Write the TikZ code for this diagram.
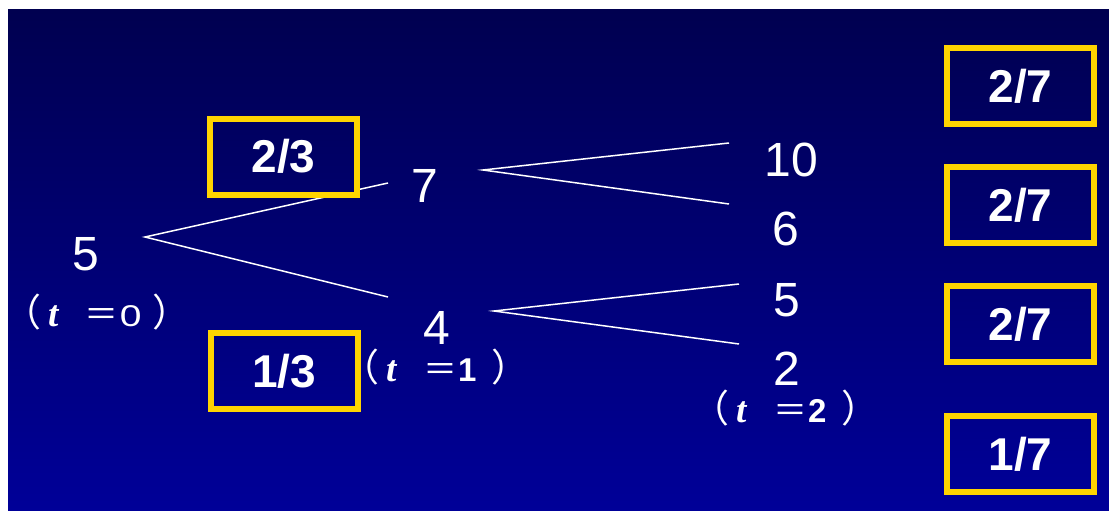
\documentclass[tikz,border=0pt]{standalone}
\usepackage{fontspec}
\usepackage{graphicx}
\setmainfont{Liberation Sans}
\newfontfamily\cjkf{Noto Sans CJK SC}
\newfontfamily\tserif{Liberation Serif}
\definecolor{bgtop}{RGB}{0,0,80}
\definecolor{bgbot}{RGB}{0,0,152}
\definecolor{gold}{RGB}{255,212,0}
\definecolor{bA}{RGB}{0,0,95}\definecolor{bB}{RGB}{0,0,107}
\definecolor{bC}{RGB}{0,0,126}\definecolor{bD}{RGB}{0,0,138}
\definecolor{bE}{RGB}{0,0,85}\definecolor{bF}{RGB}{0,0,97}
\definecolor{bG}{RGB}{0,0,102}\definecolor{bH}{RGB}{0,0,114}
\definecolor{bI}{RGB}{0,0,119}\definecolor{bJ}{RGB}{0,0,131}
\definecolor{bK}{RGB}{0,0,138}\definecolor{bL}{RGB}{0,0,150}
\newcommand\tpart[2]{\makebox[0pt][l]{\hspace{#1}#2}}
\newcommand\tlab[1]{\makebox[136pt][l]{%
  \tpart{-24pt}{\fontsize{38}{42}\selectfont\cjkf （}%
  \tpart{21pt}{\fontsize{37}{40}\selectfont\tserif\bfseries\itshape t}%
  \tpart{58pt}{\fontsize{34}{38}\selectfont\cjkf ＝}%
  \tpart{93pt}{#1}%
  \tpart{126pt}{\fontsize{38}{42}\selectfont\cjkf ）}}}
\begin{document}
\begin{tikzpicture}[x=1pt,y=-1pt,
  num/.style={text=white,font=\fontsize{48}{56}\selectfont,inner sep=0pt},
  tlabel/.style={text=white,inner sep=0pt},
  branch/.style={draw=white,line width=1.5pt},
  probbox/.style={draw=gold,line width=6pt,minimum width=147pt,minimum height=76pt,
    text=white,font=\fontsize{46}{52}\selectfont\bfseries,inner sep=0pt}]
\useasboundingbox (0,0) rectangle (1109,511);
\fill[white] (0,0) rectangle (1109,511);
\shade[top color=bgtop,bottom color=bgbot] (8,10) rectangle (1109,511);
% tree values
\node[num] (v0) at (86,254) {5};
\node[num] (v1u) at (425,186) {7};
\node[num] (v1d) at (437,328) {4};
\node[num] (v2a) at (791,160) {10};
\node[num] (v2b) at (786,229) {6};
\node[num] (v2c) at (787,300) {5};
\node[num] (v2d) at (787,369) {2};
% time labels
\node[tlabel] (t0) at (95,312) {\tlab{\scalebox{1.3}[1]{\fontsize{30}{32}\selectfont 0}}};
\node[tlabel] (t1) at (433,367) {\tlab{\fontsize{33}{36}\selectfont\bfseries 1}};
\node[tlabel] (t2) at (783,408) {\tlab{\fontsize{33}{36}\selectfont\bfseries 2}};
% branch end points
\coordinate (r0) at (145,237);
\coordinate (r0u) at (388,183);
\coordinate (r0d) at (388,297);
\coordinate (ru) at (483,170);
\coordinate (rua) at (729,143);
\coordinate (rub) at (729,204);
\coordinate (rd) at (494,311);
\coordinate (rda) at (739,284);
\coordinate (rdb) at (739,344);
\draw[branch] (r0u) -- (r0) -- (r0d);
\draw[branch] (rua) -- (ru) -- (rub);
\draw[branch] (rda) -- (rd) -- (rdb);
% probability boxes
\node[probbox,top color=bA,bottom color=bB] (p1u) at (283.5,156.5) {2/3};
\node[probbox,top color=bC,bottom color=bD] (p1d) at (284,371) {1/3};
\node[probbox,top color=bE,bottom color=bF] (p2a) at (1020.5,86) {2/7};
\node[probbox,top color=bG,bottom color=bH] (p2b) at (1020.5,205) {2/7};
\node[probbox,top color=bI,bottom color=bJ] (p2c) at (1020.5,324) {2/7};
\node[probbox,top color=bK,bottom color=bL] (p2d) at (1020.5,454) {1/7};
\end{tikzpicture}
\end{document}
